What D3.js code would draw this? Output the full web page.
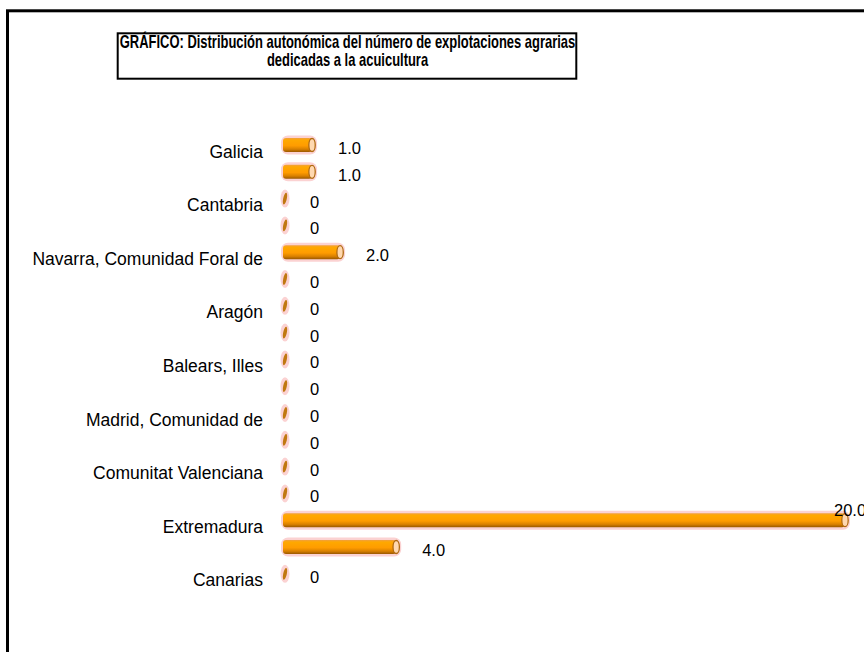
<!DOCTYPE html>
<html>
<head>
<meta charset="utf-8">
<style>
  body { margin: 0; background: #fff; }
  svg { display: block; }
  text { font-family: "Liberation Sans", Arial, sans-serif; fill: #000; }
</style>
</head>
<body>
<div id="chart"></div>
<script src="https://cdn.jsdelivr.net/npm/d3@7/dist/d3.min.js"></script>
<script>
// categories (top to bottom) and values
var regions = ["Galicia", "Asturias, Principado de", "Cantabria", "País Vasco",
  "Navarra, Comunidad Foral de", "Rioja, La", "Aragón", "Cataluña", "Balears, Illes",
  "Castilla y León", "Madrid, Comunidad de", "Castilla - La Mancha",
  "Comunitat Valenciana", "Murcia, Región de", "Extremadura", "Andalucía", "Canarias"];
var explotaciones = [1, 1, 0, 0, 2, 0, 0, 0, 0, 0, 0, 0, 0, 0, 20, 4, 0];
var titleLines = ["GRÁFICO: Distribución autonómica del número de explotaciones agrarias",
  "dedicadas a la acuicultura"];

var width = 864, height = 652;

var svg = d3.select("#chart").append("svg")
    .attr("width", width)
    .attr("height", height);

// outer frame (runs off the right and bottom of the picture)
svg.append("rect")
    .attr("x", 7.5).attr("y", 10.8)
    .attr("width", 900).attr("height", 700)
    .attr("fill", "none").attr("stroke", "#000").attr("stroke-width", 3);

// title box
svg.append("rect")
    .attr("x", 117.7).attr("y", 33.3)
    .attr("width", 458.6).attr("height", 45.4)
    .attr("fill", "#fff").attr("stroke", "#000").attr("stroke-width", 2);

// title is set in a narrow bold face, so squeeze it horizontally
titleLines.forEach(function(t, i) {
  svg.append("g")
      .attr("transform", "translate(347.5," + (47.5 + i * 18) + ") scale(0.72,1)")
    .append("text")
      .attr("text-anchor", "middle")
      .style("font-size", "18px")
      .style("font-weight", "bold")
      .text(t);
});

// scales
var x = d3.scaleLinear().domain([0, 20]).range([284, 845]);
var y = d3.scaleBand().domain(regions).range([131.6, 131.6 + 26.8 * regions.length]);

var barH = 14;

// gradient for the cylinder body
var defs = svg.append("defs");
var grad = defs.append("linearGradient")
    .attr("id", "body").attr("x1", 0).attr("y1", 0).attr("x2", 0).attr("y2", 1);
[["0%", "#f0a040"], ["15%", "#ffa800"], ["55%", "#ff9c00"], ["80%", "#d98000"], ["100%", "#9a5800"]]
  .forEach(function(s) { grad.append("stop").attr("offset", s[0]).attr("stop-color", s[1]); });

// category axis, every other label
var axis = d3.axisLeft(y)
    .tickSize(0)
    .tickPadding(0)
    .tickFormat(function(d, i) { return i % 2 === 0 ? d : ""; });

var gAxis = svg.append("g")
    .attr("transform", "translate(263,6.5)")
    .call(axis);
gAxis.select(".domain").remove();
gAxis.selectAll("text")
    .style("font-family", '"Liberation Sans", Arial, sans-serif')
    .style("font-size", "17.5px")
    .attr("dy", "0.35em");

// bars
var bars = svg.selectAll(".bar")
    .data(regions.map(function(r, i) { return {name: r, value: explotaciones[i]}; }))
    .enter().append("g")
    .attr("class", "bar")
    .attr("transform", function(d) { return "translate(0," + (y(d.name) + y.bandwidth() / 2) + ")"; });

bars.each(function(d) {
  var g = d3.select(this);
  var x0 = x(0), x1 = x(d.value);
  if (d.value > 0) {
    // pink halo
    g.append("rect")
        .attr("x", x0 - 3).attr("y", -barH / 2 - 2.5)
        .attr("width", x1 - x0 + 8).attr("height", barH + 5)
        .attr("rx", 7)
        .attr("fill", "#fbd2d2");
    g.append("rect")
        .attr("x", x0 - 1).attr("y", -barH / 2)
        .attr("width", x1 - x0 + 1).attr("height", barH)
        .attr("rx", 3)
        .attr("fill", "url(#body)");
    g.append("ellipse")
        .attr("cx", x1).attr("cy", 0)
        .attr("rx", 3.2).attr("ry", barH / 2 - 0.5)
        .attr("fill", "#ffd8b0")
        .attr("stroke", "#b06a10").attr("stroke-width", 1.3);
  } else {
    g.append("ellipse")
        .attr("cx", x0 + 1).attr("cy", 0)
        .attr("rx", 4.5).attr("ry", barH / 2 + 2)
        .attr("fill", "#fbd2d2");
    g.append("ellipse")
        .attr("cx", x0 + 1).attr("cy", 0)
        .attr("rx", 1.8).attr("ry", barH / 2 - 1)
        .attr("transform", "rotate(12," + (x0 + 1) + ",0)")
        .attr("fill", "#c07810");
  }
});

// value labels
bars.append("text")
    .style("font-size", "16.5px")
    .text(function(d) { return d.value === 0 ? "0" : d3.format(".1f")(d.value); })
    .each(function(d) {
      var t = d3.select(this);
      var w = this.getComputedTextLength();
      var lx = x(d.value) + 26, ly = 9;
      // label that would fall outside the plot goes above the bar end, as in the source
      if (lx + w > width) { lx = x(d.value) - 11; ly = -4; }
      t.attr("x", lx).attr("y", ly);
    });
</script>
</body>
</html>
